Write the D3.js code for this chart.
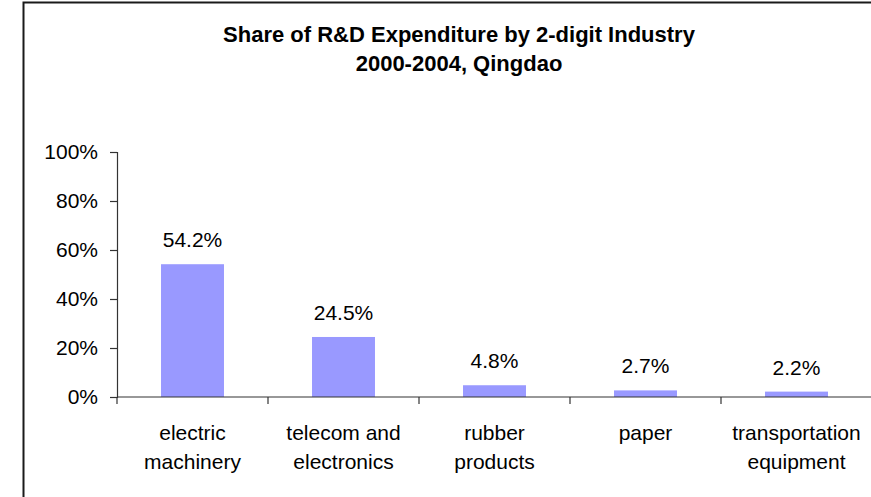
<!DOCTYPE html>
<html>
<head>
<meta charset="utf-8">
<script src="https://cdn.jsdelivr.net/npm/d3@7"></script>
<style>
  html, body { margin: 0; padding: 0; background: #fff; }
  svg { display: block; font-family: "Liberation Sans", Arial, Helvetica, sans-serif; }
</style>
</head>
<body>
<svg id="chart" width="871" height="497"></svg>
<script>
// Industry categories (each label split into display lines)
const categories = [
  "electric machinery",
  "telecom and electronics",
  "rubber products",
  "paper",
  "transportation equipment"
];
const categoryLines = [
  ["electric", "machinery"],
  ["telecom and", "electronics"],
  ["rubber", "products"],
  ["paper"],
  ["transportation", "equipment"]
];
// Share of R&D expenditure, percent
const shares = [54.2, 24.5, 4.8, 2.7, 2.2];
const yTicks = [0, 20, 40, 60, 80, 100];
const titleLines = ["Share of R&D Expenditure by 2-digit Industry", "2000-2004, Qingdao"];

const svg = d3.select("#chart");

// Chart-area frame
svg.append("rect")
  .attr("x", 23.5).attr("y", 2.5)
  .attr("width", 1000).attr("height", 1000)
  .attr("fill", "none").attr("stroke", "#1a1a1a").attr("stroke-width", 2);

// Title
svg.append("g").selectAll("text")
  .data(titleLines)
  .join("text")
  .attr("x", 459)
  .attr("y", (d, i) => 42 + i * 28.5)
  .attr("text-anchor", "middle")
  .attr("font-weight", "bold")
  .attr("font-size", 22)
  .attr("fill", "#000")
  .text(d => d);

const plotLeft = 117, plotRight = 872, plotTop = 152, plotBottom = 397;

const x = d3.scaleBand().domain(categories).range([plotLeft, plotRight]).paddingInner(0).paddingOuter(0);
const y = d3.scaleLinear().domain([0, 100]).range([plotBottom, plotTop]);
const barW = x.bandwidth() * 0.417;

// Bars
svg.append("g").selectAll("rect")
  .data(shares)
  .join("rect")
  .attr("x", (d, i) => x(categories[i]) + (x.bandwidth() - barW) / 2)
  .attr("y", d => y(d))
  .attr("width", barW)
  .attr("height", d => y(0) - y(d))
  .attr("fill", "#9999ff");

// Value labels
svg.append("g").selectAll("text")
  .data(shares)
  .join("text")
  .attr("x", (d, i) => x(categories[i]) + x.bandwidth() / 2)
  .attr("y", d => y(d) - 17)
  .attr("text-anchor", "middle")
  .attr("font-size", 21)
  .attr("fill", "#000")
  .text(d => d.toFixed(1) + "%");

// Y axis
const yAxis = svg.append("g")
  .attr("transform", `translate(${plotLeft},0)`)
  .call(d3.axisLeft(y).tickValues(yTicks).tickFormat(d => d + "%").tickSize(7).tickPadding(12));
yAxis.select(".domain").attr("stroke", "#333").attr("stroke-width", 1.2);
yAxis.selectAll(".tick line").attr("stroke", "#333").attr("stroke-width", 1.2);
yAxis.selectAll(".tick text")
  .attr("font-size", 21).attr("fill", "#000")
  .attr("font-family", "Liberation Sans, Arial, sans-serif");

// X axis: baseline plus ticks at category boundaries
const xAxisG = svg.append("g");
xAxisG.append("line")
  .attr("x1", plotLeft).attr("x2", plotRight)
  .attr("y1", y(0)).attr("y2", y(0))
  .attr("stroke", "#333").attr("stroke-width", 1.2);
xAxisG.selectAll("line.tick")
  .data(categories)
  .join("line")
  .attr("class", "tick")
  .attr("x1", d => x(d)).attr("x2", d => x(d))
  .attr("y1", y(0)).attr("y2", y(0) + 7)
  .attr("stroke", "#333").attr("stroke-width", 1.2);

// Category labels
const catLabels = svg.append("g").selectAll("text")
  .data(categories)
  .join("text")
  .attr("x", d => x(d) + x.bandwidth() / 2)
  .attr("y", 440)
  .attr("text-anchor", "middle")
  .attr("font-size", 21)
  .attr("fill", "#000");
catLabels.each(function(d, i) {
  const t = d3.select(this);
  categoryLines[i].forEach((line, j) => {
    t.append("tspan")
      .attr("x", x(d) + x.bandwidth() / 2)
      .attr("dy", j === 0 ? 0 : 29)
      .text(line);
  });
});
</script>
</body>
</html>
